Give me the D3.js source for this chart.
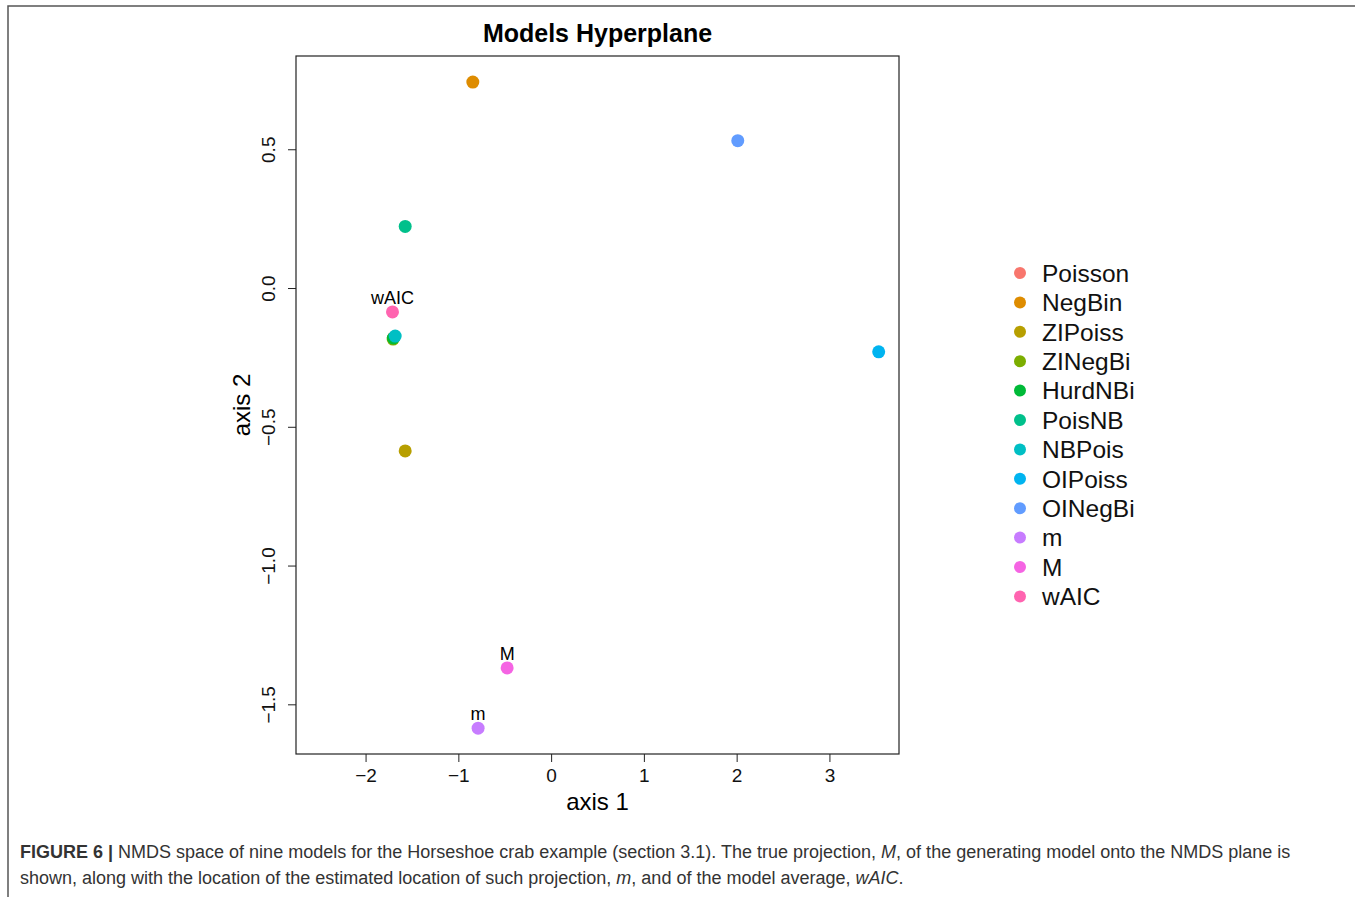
<!DOCTYPE html>
<html>
<head>
<meta charset="utf-8">
<script src="https://cdn.jsdelivr.net/npm/d3@7"></script>
<style>
  body { margin: 0; background: #fff; }
  svg text { font-family: "Liberation Sans", Arial, sans-serif; }
</style>
</head>
<body>
<div id="chart"></div>
<script>
// data
const models = ["Poisson", "NegBin", "ZIPoiss", "ZINegBi", "HurdNBi", "PoisNB",
                "NBPois", "OIPoiss", "OINegBi", "m", "M", "wAIC"];
const axis1 = [-1.70, -0.844, -1.573, -1.703, -1.70, -1.573, -1.681, 3.531, 2.012, -0.787, -0.474, -1.710];
const axis2 = [-0.18, 0.742, -0.587, -0.184, -0.18, 0.222, -0.173, -0.230, 0.531, -1.586, -1.369, -0.086];
const labelled = ["m", "M", "wAIC"];
const xTicks = [-2, -1, 0, 1, 2, 3];
const yTicks = [0.5, 0.0, -0.5, -1.0, -1.5];
const colors = ["#F8766D", "#DE8C00", "#B79F00", "#7CAE00", "#00BA38", "#00C08B",
                "#00BFC4", "#00B4F0", "#619CFF", "#C77CFF", "#F564E3", "#FF64B0"];

const W = 1355, H = 897;
const plot = {left: 296, top: 56, right: 899, bottom: 754};

const svg = d3.select("#chart").append("svg")
    .attr("width", W).attr("height", H);

// figure frame (top + left)
svg.append("path")
   .attr("d", `M8,${H} V6 H${W}`)
   .attr("fill", "none")
   .attr("stroke", "#555")
   .attr("stroke-width", 1.5);

const x = d3.scaleLinear().domain([-2.75, 3.75]).range([plot.left, plot.right]);
const y = d3.scaleLinear().domain([-1.679, 0.836]).range([plot.bottom, plot.top]);

const fmt = v => d3.format(".1f")(v).replace("-", "−");

// x axis
svg.append("g")
   .attr("transform", `translate(0,${plot.bottom})`)
   .call(d3.axisBottom(x).tickValues(xTicks).tickSize(8).tickSizeOuter(0)
           .tickFormat(d => String(d).replace("-", "−")))
   .call(g => g.select(".domain").remove())
   .call(g => g.selectAll("line").attr("stroke", "#222"))
   .call(g => g.selectAll("text").attr("font-size", 19).attr("dy", null).attr("y", 28)
                .attr("fill", "#111").attr("font-family", "Liberation Sans, Arial, sans-serif"));

// y axis, labels rotated like R
const yAxis = svg.append("g")
   .attr("transform", `translate(${plot.left},0)`)
   .call(d3.axisLeft(y).tickValues(yTicks).tickSize(8).tickSizeOuter(0).tickFormat(fmt))
   .call(g => g.select(".domain").remove())
   .call(g => g.selectAll("line").attr("stroke", "#222"));
yAxis.selectAll("text")
   .attr("font-size", 19).attr("fill", "#111")
   .attr("font-family", "Liberation Sans, Arial, sans-serif")
   .attr("x", null).attr("dy", null)
   .attr("text-anchor", "middle")
   .attr("transform", "translate(-21,0) rotate(-90)")
   .attr("y", 0);

// box
svg.append("rect")
   .attr("x", plot.left).attr("y", plot.top)
   .attr("width", plot.right - plot.left).attr("height", plot.bottom - plot.top)
   .attr("fill", "none").attr("stroke", "#222").attr("stroke-width", 1.2);

// title and axis labels
svg.append("text")
   .attr("x", (plot.left + plot.right) / 2).attr("y", 42)
   .attr("text-anchor", "middle").attr("font-size", 25).attr("font-weight", "bold")
   .text("Models Hyperplane");

svg.append("text")
   .attr("x", (plot.left + plot.right) / 2).attr("y", 810)
   .attr("text-anchor", "middle").attr("font-size", 24)
   .text("axis 1");

svg.append("text")
   .attr("transform", `translate(250,${(plot.top + plot.bottom) / 2}) rotate(-90)`)
   .attr("text-anchor", "middle").attr("font-size", 24)
   .text("axis 2");

// points
const data = models.map((name, i) => ({name, a1: axis1[i], a2: axis2[i], color: colors[i]}));

svg.selectAll(".pt")
   .data(data)
   .enter().append("circle")
   .attr("class", "pt")
   .attr("cx", d => x(d.a1))
   .attr("cy", d => y(d.a2))
   .attr("r", 6.5)
   .attr("fill", d => d.color);

svg.selectAll(".ptlab")
   .data(data.filter(d => labelled.includes(d.name)))
   .enter().append("text")
   .attr("class", "ptlab")
   .attr("x", d => x(d.a1))
   .attr("y", d => y(d.a2) - 8)
   .attr("text-anchor", "middle")
   .attr("font-size", 18)
   .text(d => d.name);

// legend
const legend = svg.append("g").attr("transform", "translate(1020,273)");
const rowH = 29.4;
legend.selectAll("circle")
   .data(data)
   .enter().append("circle")
   .attr("cx", 0)
   .attr("cy", (d, i) => i * rowH)
   .attr("r", 6)
   .attr("fill", d => d.color);
legend.selectAll("text")
   .data(data)
   .enter().append("text")
   .attr("x", 22)
   .attr("y", (d, i) => i * rowH)
   .attr("dy", "0.36em")
   .attr("font-size", 24.5)
   .attr("fill", "#111")
   .text(d => d.name);

// caption
const cap = svg.append("g").attr("font-size", 18).attr("fill", "#333");
const l1 = cap.append("text").attr("x", 20).attr("y", 858);
l1.append("tspan").attr("font-weight", "bold").text("FIGURE 6 | ");
l1.append("tspan").text("NMDS space of nine models for the Horseshoe crab example (section 3.1). The true projection, ");
l1.append("tspan").attr("font-style", "italic").text("M");
l1.append("tspan").text(", of the generating model onto the NMDS plane is");
const l2 = cap.append("text").attr("x", 20).attr("y", 884);
l2.append("tspan").text("shown, along with the location of the estimated location of such projection, ");
l2.append("tspan").attr("font-style", "italic").text("m");
l2.append("tspan").text(", and of the model average, ");
l2.append("tspan").attr("font-style", "italic").text("wAIC");
l2.append("tspan").text(".");
</script>
</body>
</html>
